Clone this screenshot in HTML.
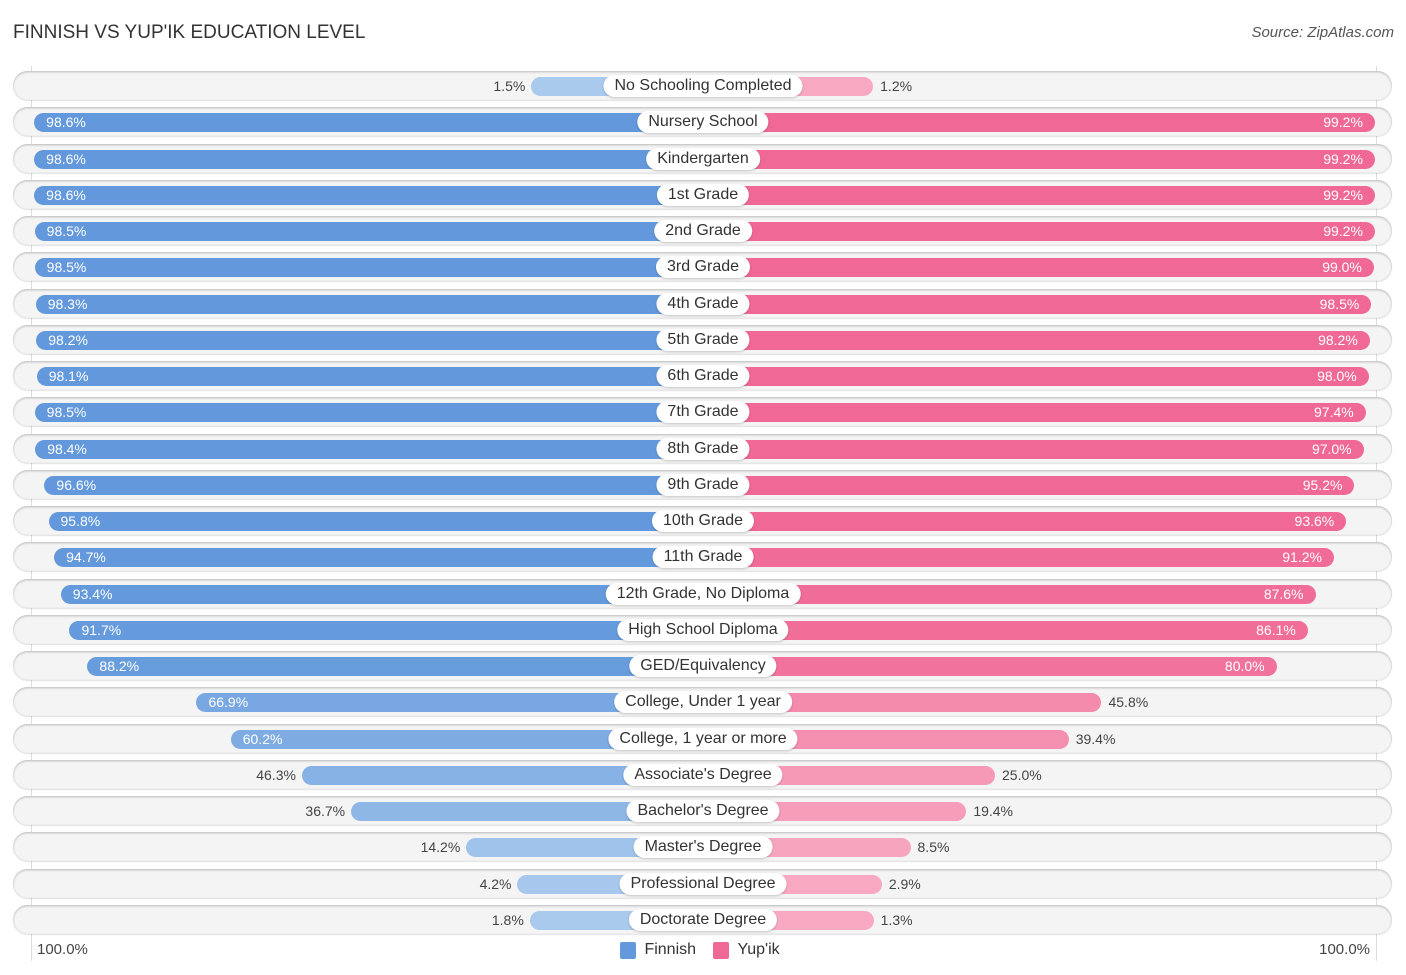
<!DOCTYPE html>
<html><head><meta charset="utf-8"><style>
body{margin:0;background:#fff;font-family:"Liberation Sans",sans-serif;}
#c{position:relative;width:1406px;height:975px;overflow:hidden}
.t{position:absolute;white-space:nowrap}
</style></head><body>
<div id="c">
<div class="t" style="left:13px;top:22px;font-size:19px;color:#333">FINNISH VS YUP'IK EDUCATION LEVEL</div>
<div class="t" style="right:12px;top:24px;font-size:15px;color:#555;font-style:italic">Source: ZipAtlas.com</div>
<div style="position:absolute;left:31px;top:66px;width:1px;height:895px;background:#ddd"></div>
<div style="position:absolute;left:1376px;top:66px;width:1px;height:895px;background:#ddd"></div>
<div id="rows"></div>
<div class="t" style="left:37px;top:941px;font-size:15px;color:#444">100.0%</div>
<div class="t" style="right:36px;top:941px;font-size:15px;color:#444">100.0%</div>
<div style="position:absolute;left:620px;top:941px;height:18px">
<span style="display:inline-block;width:16px;height:17px;background:#6399dc;border-radius:2px;vertical-align:middle"></span>
<span style="font-size:16px;color:#333;vertical-align:middle;margin-left:4px">Finnish</span></div>
<div style="position:absolute;left:713px;top:941px;height:18px">
<span style="display:inline-block;width:16px;height:17px;background:#f06895;border-radius:2px;vertical-align:middle"></span>
<span style="font-size:16px;color:#333;vertical-align:middle;margin-left:4px">Yup'ik</span></div>
</div>
<script>
const categories=["No Schooling Completed","Nursery School","Kindergarten","1st Grade","2nd Grade","3rd Grade","4th Grade","5th Grade","6th Grade","7th Grade","8th Grade","9th Grade","10th Grade","11th Grade","12th Grade, No Diploma","High School Diploma","GED/Equivalency","College, Under 1 year","College, 1 year or more","Associate's Degree","Bachelor's Degree","Master's Degree","Professional Degree","Doctorate Degree"];
const finnish=[1.5,98.6,98.6,98.6,98.5,98.5,98.3,98.2,98.1,98.5,98.4,96.6,95.8,94.7,93.4,91.7,88.2,66.9,60.2,46.3,36.7,14.2,4.2,1.8];
const yupik=[1.2,99.2,99.2,99.2,99.2,99.0,98.5,98.2,98.0,97.4,97.0,95.2,93.6,91.2,87.6,86.1,80.0,45.8,39.4,25.0,19.4,8.5,2.9,1.3];
const cx=703,base=164,k=5.12,y0=86,dy=(920-86)/23;
function mix(a,b,t){return 'rgb('+a.map((v,i)=>Math.round(v+(b[i]-v)*t)).join(',')+')';}
const rows=document.getElementById('rows');
function w(v){return base+k*v;}
categories.forEach((c,i)=>{
  const y=y0+i*dy;
  const bg=document.createElement('div');
  
  
  bg.style.cssText=`position:absolute;left:13px;width:1379px;top:${y-15}px;height:29px;border-radius:15px;background:#f4f4f4;box-shadow:0 1px 2px rgba(0,0,0,0.25) inset,0 1px 1px rgba(0,0,0,0.12)`;
  rows.appendChild(bg);
  const fv=finnish[i],yv=yupik[i];
  const fb=document.createElement('div');
  
  
  fb.style.cssText=`position:absolute;left:${cx-w(fv)}px;width:${w(fv)}px;top:${y-9}px;height:19px;border-radius:10px;background:${mix([170,202,237],[99,153,220],Math.min(1,fv/95))}`;
  rows.appendChild(fb);
  const yb=document.createElement('div');
  
  
  yb.style.cssText=`position:absolute;left:${cx}px;width:${w(yv)}px;top:${y-9}px;height:19px;border-radius:10px;background:${mix([248,170,194],[240,104,149],Math.min(1,yv/95))}`;
  rows.appendChild(yb);
  const lb=document.createElement('div');
  
  
  lb.className='t';
  lb.textContent=c;
  lb.style.cssText+=`;left:${cx}px;top:${y-11}px;transform:translateX(-50%);background:#fff;border-radius:11px;padding:0 11px;height:22px;line-height:22px;font-size:16px;color:#333;box-shadow:0 1px 2px rgba(0,0,0,0.2)`;
  rows.appendChild(lb);
  const fl=document.createElement('div');
  
  
  fl.className='t';
  fl.textContent=fv.toFixed(1)+'%';
  if(fv>55){fl.style.cssText+=`;left:${cx-w(fv)+12}px;top:${y-9}px;line-height:19px;font-size:14px;color:#fff`;}
  else{fl.style.cssText+=`;right:${1406-(cx-w(fv))+6}px;top:${y-9}px;line-height:19px;font-size:14px;color:#444`;}
  rows.appendChild(fl);
  const yl=document.createElement('div');
  
  
  yl.className='t';
  yl.textContent=yv.toFixed(1)+'%';
  if(yv>55){yl.style.cssText+=`;right:${1406-(cx+w(yv))+12}px;top:${y-9}px;line-height:19px;font-size:14px;color:#fff`;}
  else{yl.style.cssText+=`;left:${cx+w(yv)+7}px;top:${y-9}px;line-height:19px;font-size:14px;color:#444`;}
  rows.appendChild(yl);
});
</script>
</body></html>
